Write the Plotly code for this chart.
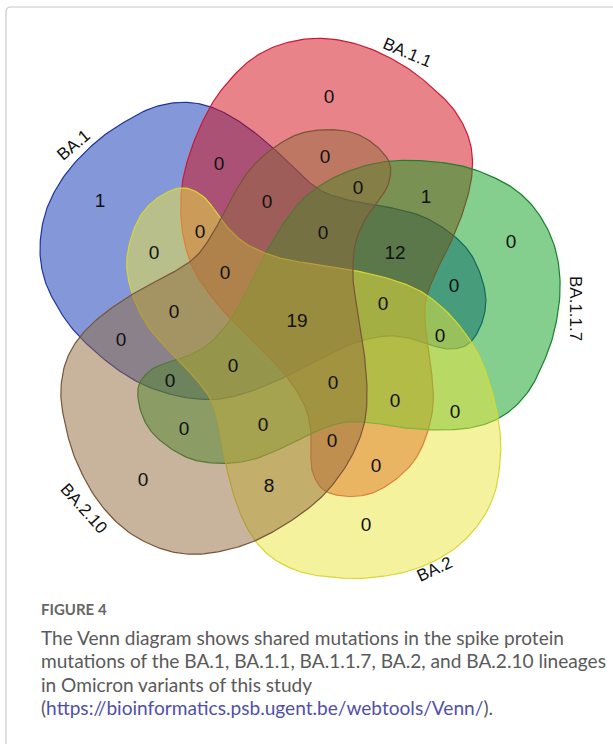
import numpy as np
import plotly.graph_objects as go

# ---------------- data ----------------
set_names = ["BA.1", "BA.1.1", "BA.1.1.7", "BA.2", "BA.2.10"]
region_counts = [0, 1, 0, 0, 0, 0, 1, 0, 0, 0, 12, 0, 0, 0, 0, 0, 19, 0, 0, 0,
                 0, 0, 0, 0, 0, 0, 0, 0, 0, 8, 0]

# ---------------- layout / geometry (not data) ----------------
W, H = 613, 744
CX, CY = 303, 318
# one petal outline (the BA.2 shape), pixel coordinates; others are rotations by 72 deg
petal = [(180, 188), (200, 194), (215, 210), (228, 228), (248, 245), (280, 258), (320, 265),
         (352, 270), (390, 279), (420, 291), (445, 310), (465, 333), (481, 360), (493, 395),
         (500, 432), (500, 462), (494, 495), (478, 525), (450, 552), (412, 570), (368, 578),
         (330, 577), (298, 571), (270, 556), (250, 533), (236, 502), (226, 465), (220, 430),
         (212, 402), (195, 378), (168, 350), (145, 322), (131, 290), (127, 258), (137, 222),
         (155, 200)]
rot_steps = [3, 2, 1, 0, 4]  # BA.1, BA.1.1, BA.1.1.7, BA.2, BA.2.10
# small per-petal corrections (scale about centre, shift x, shift y)
tweak = [(0.98, -5, -8), (1.0, 0, -4), (0.97, -8, -5), (1.0, 0, 0), (1.0, 0, 0)]
fill_rgb = [(10, 50, 180), (210, 10, 20), (10, 160, 30), (235, 230, 60), (145, 105, 60)]
line_rgb = [(30, 50, 160), (205, 25, 55), (25, 130, 45), (215, 215, 50), (120, 85, 55)]
label_pos = [(73, 145, -40), (407, 52, 23), (576, 308, 90), (434, 569, -25), (84, 508, 48)]
count_pos = [(329, 98), (100, 202), (219, 165), (325, 158), (358, 189), (267, 203), (426, 198),
             (511, 243), (200, 233), (323, 234), (395, 254), (154, 254), (225, 274), (454, 287),
             (383, 305), (174, 313), (297, 322), (121, 341), (440, 337), (233, 367), (170, 382),
             (333, 384), (395, 402), (455, 413), (184, 430), (263, 426), (332, 442), (376, 467),
             (143, 481), (269, 487), (366, 526)]


def catmull_closed(pts, n=14):
    p = np.asarray(pts, float)
    m = len(p)
    out = []
    for i in range(m):
        p0, p1, p2, p3 = p[(i - 1) % m], p[i], p[(i + 1) % m], p[(i + 2) % m]
        for t in np.linspace(0, 1, n, endpoint=False):
            t2, t3 = t * t, t * t * t
            out.append(0.5 * ((2 * p1) + (-p0 + p2) * t + (2 * p0 - 5 * p1 + 4 * p2 - p3) * t2
                              + (-p0 + 3 * p1 - 3 * p2 + p3) * t3))
    out.append(out[0])
    return np.array(out)


base = catmull_closed(petal)
dx = base[:, 0] - CX
dy = base[:, 1] - CY

fig = go.Figure()
for i, name in enumerate(set_names):
    th = np.deg2rad(72 * rot_steps[i])
    s, tx, ty = tweak[i]
    xs = CX + s * (dx * np.cos(th) + dy * np.sin(th)) + tx
    ys = CY + s * (-dx * np.sin(th) + dy * np.cos(th)) + ty
    r, g, b = fill_rgb[i]
    lr, lg, lb = line_rgb[i]
    fig.add_trace(go.Scatter(x=xs, y=ys, mode="lines", fill="toself",
                             fillcolor=f"rgba({r},{g},{b},0.5)",
                             line=dict(color=f"rgb({lr},{lg},{lb})", width=1.2),
                             hoverinfo="skip", showlegend=False, name=name))

fig.add_trace(go.Scatter(x=[p[0] for p in count_pos], y=[p[1] for p in count_pos],
                         mode="text", text=[str(c) for c in region_counts],
                         textfont=dict(family="Liberation Sans, Arial", size=19, color="#111"),
                         hoverinfo="skip", showlegend=False))

annotations = []
for name, (lx, ly, ang) in zip(set_names, label_pos):
    annotations.append(dict(x=lx, y=ly, xref="x", yref="y", text=name, showarrow=False,
                            textangle=ang, font=dict(family="Liberation Sans, Arial", size=17,
                                                     color="#111")))

cap_font = "Lato, Open Sans, sans-serif"
annotations.append(dict(x=39, y=609, xref="x", yref="y", text="FIGURE 4", showarrow=False,
                        xanchor="left", yanchor="middle",
                        font=dict(family=cap_font, size=15, color="#666", weight="bold")))
caption_lines = [
    "The Venn diagram shows shared mutations in the spike protein",
    "mutations of the BA.1, BA.1.1, BA.1.1.7, BA.2, and BA.2.10 lineages",
    "in Omicron variants of this study",
    "(<span style='color:#5050aa'>https://bioinformatics.psb.ugent.be/webtools/Venn/</span>).",
]
for k, t in enumerate(caption_lines):
    annotations.append(dict(x=39, y=637 + 23.5 * k, xref="x", yref="y", text=t, showarrow=False,
                            xanchor="left", yanchor="middle",
                            font=dict(family=cap_font, size=19.1, color="#5a5a5a")))

fig.update_layout(
    width=W, height=H, margin=dict(l=0, r=0, t=0, b=0),
    paper_bgcolor="white", plot_bgcolor="white",
    xaxis=dict(range=[0, W], visible=False, fixedrange=True),
    yaxis=dict(range=[H, 0], visible=False, fixedrange=True),
    annotations=annotations,
    shapes=[dict(type="path", xref="x", yref="y",
                 path="M 6 760 L 6 12 Q 6 7 11 7 L 630 7",
                 line=dict(color="rgb(200,200,200)", width=1.2))],
)
fig.write_html("out.html", config={"displayModeBar": False},
               post_script="document.body.style.margin='0px';document.body.style.overflow='hidden';")
